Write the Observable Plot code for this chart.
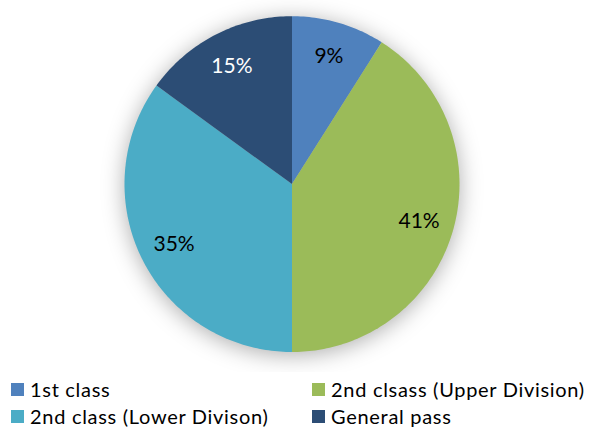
<!DOCTYPE html>
<html>
<head>
<meta charset="utf-8">
<script src="https://cdn.jsdelivr.net/npm/d3@7"></script>
<script src="https://cdn.jsdelivr.net/npm/@observablehq/plot@0.6"></script>
<style>
  html, body { margin: 0; padding: 0; background: #fff; }
  #wrap { position: relative; width: 596px; height: 428px; overflow: hidden; font-family: Lato, "Open Sans", sans-serif; }
  #chart { position: absolute; left: 0; top: 0; }
  .legend { position: absolute; left: 0; top: 0; width: 596px; }
  .item { position: absolute; display: flex; align-items: center; font-size: 20px; letter-spacing: 0.7px; color: #000; white-space: nowrap; line-height: 1; }
  .sw { width: 13px; height: 13px; margin-right: 6px; flex: none; }
</style>
</head>
<body>
<div id="wrap">
  <div id="chart"></div>
  <div class="legend" id="legend"></div>
</div>
<script>
const categories = ["1st class", "2nd clsass (Upper Division)", "2nd class (Lower Divison)", "General pass"];
const values = [9, 41, 35, 15];
const labels = ["9%", "41%", "35%", "15%"];
const colors = ["#4F81BD", "#9BBB59", "#4BACC6", "#2C4D75"];
const labelColors = ["#000000", "#000000", "#000000", "#ffffff"];

const data = categories.map((c, i) => ({category: c, value: values[i], label: labels[i]}));
const arcs = d3.pie().sort(null).value(d => d.value)(data);

// polygon vertices of each slice in unit-circle coordinates
const poly = [];
arcs.forEach(a => {
  const cat = a.data.category;
  poly.push({category: cat, x: 0, y: 0});
  const n = Math.max(2, Math.ceil((a.endAngle - a.startAngle) / (Math.PI / 180)));
  for (let k = 0; k <= n; k++) {
    const t = a.startAngle + (a.endAngle - a.startAngle) * k / n;
    poly.push({category: cat, x: Math.sin(t), y: Math.cos(t)});
  }
  poly.push({category: cat, x: 0, y: 0});
});

const labelPts = arcs.map((a, i) => {
  const m = (a.startAngle + a.endAngle) / 2;
  return {label: a.data.label, category: a.data.category, x: 0.79 * Math.sin(m), y: 0.79 * Math.cos(m), color: labelColors[i]};
});

const plot = Plot.plot({
  width: 596,
  height: 372,
  margin: 0,
  x: {domain: [-1, 1], range: [124, 459], axis: null},
  y: {domain: [-1, 1], range: [351.5, 15.7], axis: null},
  color: {domain: categories, range: colors},
  style: {fontFamily: "Lato, 'Open Sans', sans-serif", background: "transparent"},
  marks: [
    Plot.line(poly, {x: "x", y: "y", z: "category", fill: "category", stroke: "none", curve: "linear-closed"}),
    Plot.text(labelPts, {x: "x", y: "y", text: "label", fill: "color", fontSize: 21})
  ]
});
document.getElementById("chart").appendChild(plot);
d3.select(plot).select('g[aria-label="line"]').style("filter", "drop-shadow(0px 3px 11px rgba(0,0,0,0.32))");

// legend
const legendPos = [
  {left: 11, top: 379}, {left: 312, top: 379},
  {left: 11, top: 406}, {left: 312, top: 406}
];
const leg = d3.select("#legend");
categories.forEach((c, i) => {
  const it = leg.append("div").attr("class", "item")
    .style("left", legendPos[i].left + "px").style("top", legendPos[i].top + "px");
  it.append("div").attr("class", "sw").style("background", colors[i]);
  it.append("span").text(c);
});
</script>
</body>
</html>
